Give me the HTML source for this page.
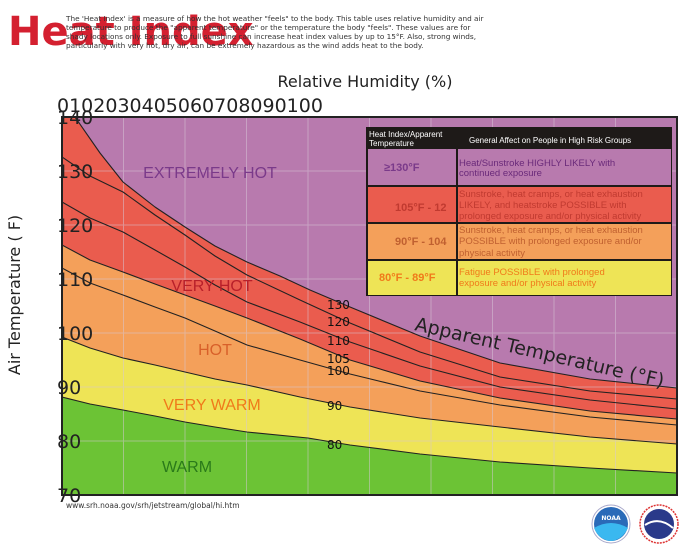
<!DOCTYPE html>
<html><head><style>
body{margin:0;width:700px;height:560px;background:#fff;overflow:hidden;font-family:"DejaVu Sans","Liberation Sans",sans-serif;}
</style></head><body>
<svg width="700" height="560" xmlns="http://www.w3.org/2000/svg" style="position:absolute;left:0;top:0">
<defs><clipPath id="c"><rect x="62" y="117" width="615" height="378"/></clipPath></defs>
<g clip-path="url(#c)">
<rect x="62" y="117" width="615" height="378" fill="#b87aae"/>
<path d="M62,95 L75,117 L100,153 L123,182 L155,207 L185,227 L215,246 L247,262 L280,276 L310,290 L350,307 L420,336 L500,363 L590,379 L677,388 L677,495 L62,495Z" fill="#ea5c4e"/>
<path d="M62,245 L90,260 L123,272 L155,284 L185,295 L215,306 L247,318 L300,339 L350,360 L420,381 L500,398 L590,411 L677,419 L677,495 L62,495Z" fill="#f4a05a"/>
<path d="M62,337 L90,348 L123,358 L155,365 L185,372 L215,379 L247,385 L300,397 L350,407 L420,418 L500,427 L590,437 L677,444 L677,495 L62,495Z" fill="#eee456"/>
<path d="M62,397 L90,404 L123,410 L155,416 L185,422 L215,427 L247,432 L308,438 L350,445 L420,454 L500,462 L590,468 L677,473 L677,495 L62,495Z" fill="#6cc335"/>
<g stroke="#d8c8d8" stroke-width="1" opacity="0.5">
<line x1="123.5" y1="117" x2="123.5" y2="495"/><line x1="185" y1="117" x2="185" y2="495"/><line x1="246.5" y1="117" x2="246.5" y2="495"/><line x1="308" y1="117" x2="308" y2="495"/><line x1="369.5" y1="117" x2="369.5" y2="495"/><line x1="431" y1="117" x2="431" y2="495"/><line x1="492.5" y1="117" x2="492.5" y2="495"/><line x1="554" y1="117" x2="554" y2="495"/><line x1="615.5" y1="117" x2="615.5" y2="495"/>
<line x1="62" y1="171" x2="677" y2="171"/><line x1="62" y1="225" x2="677" y2="225"/><line x1="62" y1="279" x2="677" y2="279"/><line x1="62" y1="333" x2="677" y2="333"/><line x1="62" y1="387" x2="677" y2="387"/><line x1="62" y1="441" x2="677" y2="441"/>
</g>
<g fill="none" stroke="#222" stroke-width="1.1" stroke-linejoin="round">
<polyline points="62,95 75,117 100,153 123,182 155,207 185,227 215,246 247,262 280,276 310,290 350,307 420,336 500,363 590,379 677,388"/>
<polyline points="62,157 90,176 123,192 155,215 185,235 215,256 247,275 300,300 350,323 420,352 500,377 590,391 677,399"/>
<polyline points="62,202 90,218 123,232 155,250 185,267 215,285 247,302 300,322 350,342 420,366 500,387 590,400 677,409"/>
<polyline points="62,245 90,260 123,272 155,284 185,295 215,306 247,318 300,339 350,360 420,381 500,398 590,411 677,419"/>
<polyline points="62,268 90,283 123,295 155,307 185,318 215,331 247,345 300,360 350,374 420,391 500,405 590,417 677,425"/>
<polyline points="62,337 90,348 123,358 155,365 185,372 215,379 247,385 300,397 350,407 420,418 500,427 590,437 677,444"/>
<polyline points="62,397 90,404 123,410 155,416 185,422 215,427 247,432 308,438 350,445 420,454 500,462 590,468 677,473"/>
</g>
</g>
<rect x="62" y="117" width="615" height="378" fill="none" stroke="#222" stroke-width="2"/>
<g font-size="12" fill="#111">
<text x="327" y="309">130</text><text x="327" y="326">120</text><text x="327" y="345">110</text><text x="327" y="363">105</text><text x="327" y="375">100</text><text x="327" y="410">90</text><text x="327" y="449">80</text>
</g>
<g font-size="16" font-family="Liberation Sans, sans-serif">
<text x="210" y="178" text-anchor="middle" fill="#7a3a8a">EXTREMELY HOT</text>
<text x="212" y="291" text-anchor="middle" fill="#b8202a">VERY HOT</text>
<text x="215" y="355" text-anchor="middle" fill="#d8602a">HOT</text>
<text x="212" y="410" text-anchor="middle" fill="#f07a1a">VERY WARM</text>
<text x="187" y="472" text-anchor="middle" fill="#2a7a1a">WARM</text>
</g>
<text transform="translate(414,330) rotate(13)" font-size="19" fill="#222">Apparent Temperature (°F)</text>
<g font-size="19" fill="#222">
<text x="57" y="124">140</text><text x="57" y="178">130</text><text x="57" y="232">120</text><text x="57" y="286">110</text><text x="57" y="340">100</text><text x="57" y="394">90</text><text x="57" y="448">80</text><text x="57" y="502">70</text>
<text x="57" y="112">0102030405060708090100</text>
</g>
<text x="365" y="87" font-size="16" text-anchor="middle" fill="#222">Relative Humidity (%)</text>
<text transform="translate(20,295) rotate(-90)" font-size="16" text-anchor="middle" fill="#222">Air Temperature ( F)</text>
<text x="66" y="508" font-size="7.5" fill="#333">www.srh.noaa.gov/srh/jetstream/global/hi.htm</text>
<text x="8" y="45" font-size="40" font-weight="bold" fill="#d42030">Heat Index</text>
<g font-size="7.3" fill="#333">
<text x="66" y="21">The 'Heat Index' is a measure of how the hot weather "feels" to the body. This table uses relative humidity and air</text>
<text x="66" y="30">temperature to produce the "apparent temperature" or the temperature the body "feels". These values are for</text>
<text x="66" y="39">shady locations only. Exposure to full sunshine can increase heat index values by up to 15°F. Also, strong winds,</text>
<text x="66" y="48">particularly with very hot, dry air, can be extremely hazardous as the wind adds heat to the body.</text>
</g>
<rect x="366" y="127" width="306" height="169" fill="#1e1a18"/>
<rect x="368" y="149" width="88" height="36" fill="#b87aae"/><rect x="458" y="149" width="213" height="36" fill="#b87aae"/>
<rect x="368" y="187" width="88" height="35" fill="#ea5c4e"/><rect x="458" y="187" width="213" height="35" fill="#ea5c4e"/>
<rect x="368" y="224" width="88" height="35" fill="#f4a05a"/><rect x="458" y="224" width="213" height="35" fill="#f4a05a"/>
<rect x="368" y="261" width="88" height="34" fill="#eee456"/><rect x="458" y="261" width="213" height="34" fill="#eee456"/>
<g font-family="Liberation Sans, sans-serif">
<g font-size="8" fill="#fff"><text x="369" y="137">Heat Index/Apparent</text><text x="369" y="146">Temperature</text><text x="469" y="143">General Affect on People in High Risk Groups</text></g>
<g font-size="11" font-weight="bold"><text x="384" y="171" fill="#7a3a8a">≥130°F</text><text x="395" y="211" fill="#c03a30">105°F - 12</text><text x="395" y="245" fill="#c06030">90°F - 104</text><text x="379" y="281" fill="#f07a1a">80°F - 89°F</text></g>
<g font-size="9.5"><text x="459" y="166" fill="#6a2a7a">Heat/Sunstroke HIGHLY LIKELY with</text><text x="459" y="176" fill="#6a2a7a">continued exposure</text>
<text x="459" y="197" fill="#c03a30">Sunstroke, heat cramps, or heat exhaustion</text><text x="459" y="208" fill="#c03a30">LIKELY, and heatstroke POSSIBLE with</text><text x="459" y="219" fill="#c03a30">prolonged exposure and/or physical activity</text>
<text x="459" y="233" fill="#c06030">Sunstroke, heat cramps, or heat exhaustion</text><text x="459" y="244" fill="#c06030">POSSIBLE with prolonged exposure and/or</text><text x="459" y="256" fill="#c06030">physical activity</text>
<text x="459" y="275" fill="#f07a1a">Fatigue POSSIBLE with prolonged</text><text x="459" y="286" fill="#f07a1a">exposure and/or physical activity</text></g>
</g>
<circle cx="611" cy="524" r="19" fill="#fff" stroke="#aac" stroke-width="1"/>
<circle cx="611" cy="524" r="17" fill="#2a6ab8"/>
<path d="M594,528 Q611,518 628,528 Q622,540 611,541 Q599,540 594,528Z" fill="#3ab8f0"/>
<text x="611" y="520" font-size="6" fill="#fff" text-anchor="middle" font-weight="bold">NOAA</text>
<circle cx="659" cy="524" r="19" fill="#fff" stroke="#d33" stroke-width="1.5" stroke-dasharray="2,1"/>
<circle cx="659" cy="524" r="15" fill="#2a3a8a"/>
<path d="M645,525 Q659,516 673,528" stroke="#fff" stroke-width="2" fill="none"/>
</svg>
</body></html>
